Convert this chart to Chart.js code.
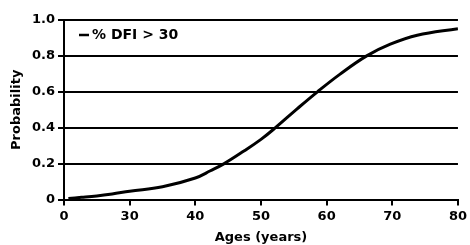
<!DOCTYPE html>
<html>
<head>
<meta charset="utf-8">
<script src="https://cdn.jsdelivr.net/npm/chart.js@4/dist/chart.umd.min.js"></script>
<style>
  html, body { margin: 0; padding: 0; background: #fff; }
  #wrap { width: 470px; height: 245px; position: relative; }
</style>
</head>
<body>
<div id="wrap"><canvas id="c" width="470" height="245"></canvas></div>
<script>
// ---- data ----
const ages = [2, 8, 15, 22, 30, 35, 40, 42.3, 44.4, 47.4, 50, 52.2, 55.5, 58.6, 62, 66.1, 69.7, 73.8, 80];
const probability = [0.006, 0.012, 0.02, 0.031, 0.046, 0.071, 0.12, 0.16, 0.2, 0.27, 0.335, 0.4, 0.505, 0.6, 0.697, 0.8, 0.865, 0.915, 0.952];
const xTickAges = [0, 30, 40, 50, 60, 70, 80];
const xTickLabels = ['0', '30', '40', '50', '60', '70', '80'];
const yTicks = [0, 0.2, 0.4, 0.6, 0.8, 1.0];
const yTickLabels = ['0', '0.2', '0.4', '0.6', '0.8', '1.0'];
const seriesLabel = '% DFI > 30';
const xTitle = 'Ages (years)';
const yTitle = 'Probability';

// The x axis is broken: 0–30 occupies one tick interval, then 10-year steps.
function ageToAxis(a) {
  for (let i = 1; i < xTickAges.length; i++) {
    if (a <= xTickAges[i]) {
      const a0 = xTickAges[i - 1], a1 = xTickAges[i];
      return (i - 1) + (a - a0) / (a1 - a0);
    }
  }
  return xTickAges.length - 1;
}

const points = ages.map((a, i) => ({ x: ageToAxis(a), y: probability[i] }));
const FONT = 'DejaVu Sans';

const legendInside = {
  id: 'legendInside',
  afterDatasetsDraw(chart) {
    const { ctx, chartArea } = chart;
    const ds = chart.data.datasets[0];
    const x0 = chartArea.left + 15, y0 = chartArea.top + 15;
    ctx.save();
    ctx.strokeStyle = '#000';
    ctx.lineWidth = 2.5;
    ctx.beginPath();
    ctx.moveTo(x0, y0);
    ctx.lineTo(x0 + 10, y0);
    ctx.stroke();
    ctx.fillStyle = '#000';
    ctx.font = 'bold 14px "' + FONT + '"';
    ctx.textBaseline = 'middle';
    ctx.textAlign = 'left';
    ctx.fillText(ds.label, x0 + 13, y0);
    ctx.restore();
  }
};

new Chart(document.getElementById('c'), {
  type: 'line',
  data: {
    datasets: [{
      label: seriesLabel,
      data: points,
      borderColor: '#000',
      borderWidth: 3,
      pointRadius: 0,
      fill: false,
      tension: 0.4
    }]
  },
  options: {
    responsive: false,
    animation: false,
    devicePixelRatio: 1,
    layout: { padding: { top: 20, right: 12, left: 0, bottom: 0 } },
    plugins: { legend: { display: false }, tooltip: { enabled: false } },
    scales: {
      x: {
        type: 'linear',
        min: 0,
        max: xTickAges.length - 1,
        afterBuildTicks(scale) { scale.ticks = xTickAges.map((_, i) => ({ value: i })); },
        afterFit(scale) { scale.height = 45.5; },
        ticks: {
          color: '#000',
          font: { family: FONT, weight: 'bold', size: 13 },
          padding: 3,
          maxRotation: 0,
          autoSkip: false,
          callback(v, i) { return xTickLabels[i]; }
        },
        grid: { drawOnChartArea: false, drawTicks: true, tickLength: 6, color: '#000', lineWidth: 2 },
        border: { display: true, color: '#000', width: 2 },
        title: {
          display: true, text: xTitle, color: '#000',
          font: { family: FONT, weight: 'bold', size: 13, lineHeight: 1.2 },
          padding: { top: 0, bottom: 0 }
        }
      },
      y: {
        type: 'linear',
        min: 0,
        max: 1,
        afterBuildTicks(scale) { scale.ticks = yTicks.map(v => ({ value: v })); },
        afterFit(scale) { scale.width = 64; },
        ticks: {
          color: '#000',
          font: { family: FONT, weight: 'bold', size: 13 },
          padding: 3,
          callback(v, i) { return yTickLabels[i]; }
        },
        grid: { drawOnChartArea: true, drawTicks: true, tickLength: 6, color: '#000', lineWidth: 2 },
        border: { display: true, color: '#000', width: 2 },
        title: {
          display: true, text: yTitle, color: '#000',
          font: { family: FONT, weight: 'bold', size: 13, lineHeight: 1.2 },
          padding: { top: 9, bottom: 0 }
        }
      }
    }
  },
  plugins: [legendInside]
});
</script>
</body>
</html>
